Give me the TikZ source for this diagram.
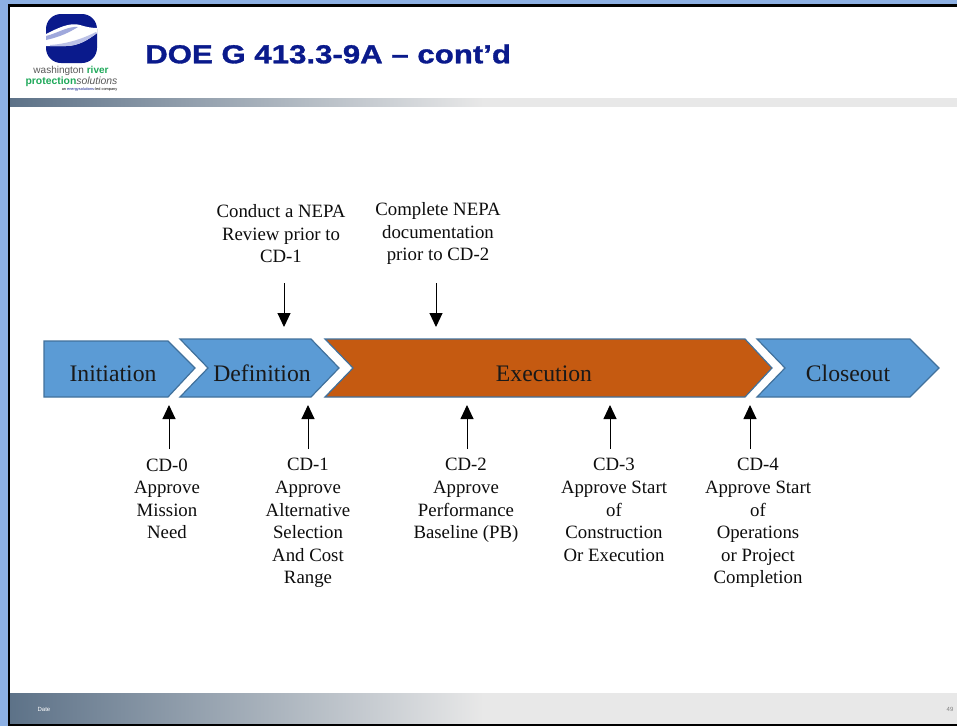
\documentclass[tikz,border=0pt]{standalone}
\usepackage{fontspec}
\setmainfont{Liberation Serif}
\setsansfont{Liberation Sans}
\newfontfamily\titlefont[FakeStretch=1.2,FakeBold=1.2]{Liberation Sans Bold}
\usetikzlibrary{arrows.meta}
\definecolor{phaseblue}{HTML}{5B9BD5}
\definecolor{phaseedge}{HTML}{41719C}
\definecolor{execorange}{HTML}{C55A11}
\definecolor{logonavy}{HTML}{0A1A8C}
\definecolor{logoband}{HTML}{9FA8DC}
\definecolor{logogreen}{HTML}{1FA95A}
\definecolor{barslate}{HTML}{5D7288}
\definecolor{barlight}{HTML}{E8E8E8}
\definecolor{pageblue}{HTML}{8DB0E3}
\tikzset{
  phase/.style = {draw=phaseedge, line width=1.2pt, fill=phaseblue},
  phaselabel/.style = {anchor=base, font=\fontsize{23.7}{26}\selectfont, text=black!90},
  note/.style = {align=center, font=\fontsize{18.8}{22.6}\selectfont, text=black!95},
  pointer/.style = {-{Triangle[length=14pt,width=13pt]}, line width=1pt},
  slidebar/.style = {left color=barslate, right color=barlight, middle color=barlight}
}
\begin{document}
\begin{tikzpicture}[x=1pt, y=-1pt]
\useasboundingbox (0,0) rectangle (957,726);
\fill[pageblue] (0,0) rectangle (957,726);
\fill[black] (8,4) rectangle (957,726);
\fill[white] (10,7) rectangle (957,723);
% header
\fill[slidebar] (10,98) rectangle (957,106);
\fill[slidebar] (10,693) rectangle (957,723);
\node[text=logonavy, anchor=west, inner sep=0pt, font=\titlefont\fontsize{26}{28}\selectfont] (title) at (145,54) {DOE G 413.3-9A – cont’d};
% logo
\fill[logonavy, rounded corners=15pt] (46,14) rectangle (97,63);
\fill[white] (46,34) .. controls (58,28) and (70,22) .. (80,25) .. controls (86,27) and (92,28) .. (97,28) -- (97,33) .. controls (88,40) and (78,46) .. (66,46) .. controls (58,46) and (52,46) .. (46,46) -- cycle;
\fill[logoband] (46,36) .. controls (58,33) and (68,26) .. (78,27) .. controls (70,32) and (60,37) .. (46,40) -- cycle;
\fill[logoband!70!white] (50,45) .. controls (65,44) and (80,40) .. (96,32) -- (97,33) .. controls (88,40) and (78,46) .. (66,46) .. controls (58,46) and (52,46) .. (50,46) -- cycle;
\node[font=\sffamily\fontsize{10}{10}\selectfont, text=black!65, inner sep=0pt] (logotop) at (71,70.5) {washington \textcolor{logogreen}{\textbf{river}}};
\node[font=\sffamily\fontsize{10.4}{10}\selectfont, text=black!65, inner sep=0pt] (logomid) at (71.5,82) {\textcolor{logogreen}{\textbf{protection}}\textit{solutions}};
\node[font=\sffamily\fontsize{3.85}{4}\selectfont, inner sep=0pt] (logolow) at (89.5,90) {an \textcolor{logonavy}{energysolutions}-led company};
% phases
\draw[phase] (44,341) -- (168,341) -- (195,368) -- (168,397) -- (44,397) -- cycle;
\draw[phase] (180,339) -- (311,339) -- (339,368) -- (311,397) -- (180,397) -- (208,368) -- cycle;
\draw[phase, fill=execorange] (325,339) -- (745,339) -- (772,368) -- (745,397) -- (325,397) -- (353,368) -- cycle;
\draw[phase] (757,339) -- (910,339) -- (939,368) -- (910,397) -- (757,397) -- (785,368) -- cycle;
\node[phaselabel] (initiation) at (113,381) {Initiation};
\node[phaselabel] (definition) at (262,381) {Definition};
\node[phaselabel] (execution) at (544,381) {Execution};
\node[phaselabel] (closeout) at (848,381) {Closeout};
% notes above
\node[note, anchor=north] (nepareview) at (281,201) {Conduct a NEPA\\Review prior to\\CD-1};
\node[note, anchor=north] (nepadoc) at (438,199) {Complete NEPA\\documentation\\prior to CD-2};
% notes below
\node[note, anchor=north] (cdzero) at (167,455) {CD-0\\Approve\\Mission\\Need};
\node[note, anchor=north] (cdone) at (308,455) {CD-1\\Approve\\Alternative\\Selection\\And Cost\\Range};
\node[note, anchor=north] (cdtwo) at (466,455) {CD-2\\Approve\\Performance\\Baseline (PB)};
\node[note, anchor=north] (cdthree) at (614,455) {CD-3\\Approve Start\\of\\Construction\\Or Execution};
\node[note, anchor=north] (cdfour) at (758,455) {CD-4\\Approve Start\\of\\Operations\\or Project\\Completion};
% arrows
\coordinate (downa) at (284,283);
\coordinate (downb) at (284,327);
\coordinate (downc) at (436,283);
\coordinate (downd) at (436,327);
\draw[pointer] (downa) -- (downb);
\draw[pointer] (downc) -- (downd);
\foreach \name/\xpos in {zero/169, one/308, two/467, three/610, four/750} {
  \coordinate (tail\name) at (\xpos,449);
  \coordinate (tip\name) at (\xpos,405);
  \draw[pointer] (tail\name) -- (tip\name);
}
% footer
\node[font=\sffamily\fontsize{6}{7}\selectfont, text=white] (datelabel) at (44,709) {Date};
\node[font=\sffamily\fontsize{6}{7}\selectfont, text=black!50] (pagenum) at (950,709) {49};
\end{tikzpicture}
\end{document}
